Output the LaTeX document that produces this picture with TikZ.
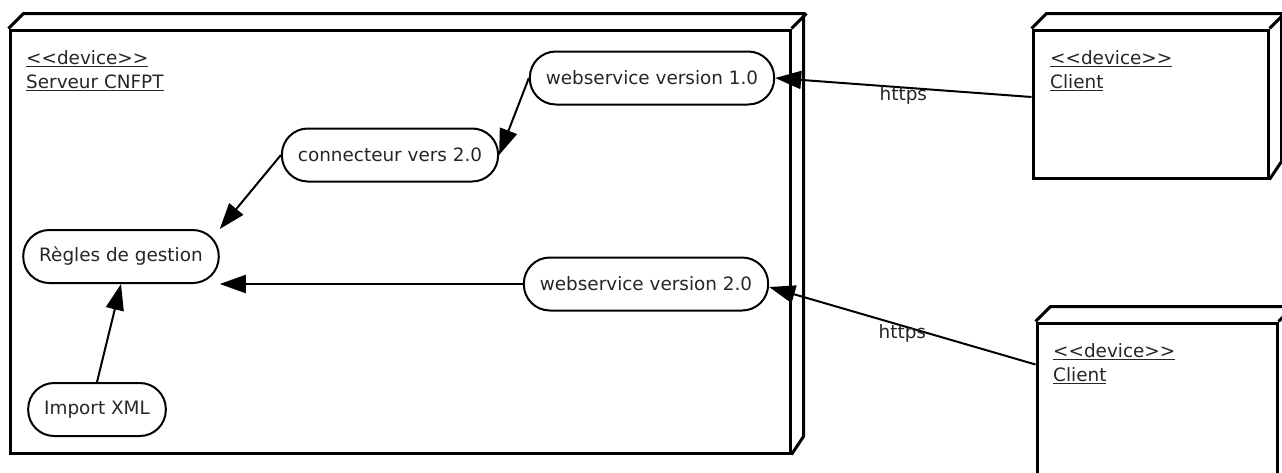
\documentclass[tikz,border=0pt]{standalone}
\usepackage{fontspec}
\setmainfont{DejaVu Sans}
\usepackage{xcolor}
\usepackage{tikz}
\usetikzlibrary{arrows.meta,positioning}

\begin{document}
\begin{tikzpicture}[
    x=1pt, y=-1pt,
    font=\fontsize{18.4}{24}\selectfont,
    devicebox/.style={draw, line width=3pt, inner sep=0pt},
    devicelabel/.style={anchor=north west, inner sep=0pt, align=left, text=black!85},
    component/.style={draw, line width=2pt, rounded corners=26pt, minimum height=53pt, inner xsep=16pt, text=black!85},
    link/.style={line width=2pt, -{Triangle[length=26pt,width=18pt]}},
    protocol/.style={pos=.5, yshift=-8pt, inner sep=0pt, text=black!85}
    ]

                \useasboundingbox (0,0) rectangle (1282,472);
                \clip (0,0) rectangle (1282,472);
                \fill[white] (0,0) rectangle (1282,472);

                % serveur
                \node[devicebox, minimum width=780pt, minimum height=423pt] (serveur) at (400,241.5) {};
                \draw[line width=3pt] (serveur.north west) -- ++(15,-15) -- ++(780,0) -- ++(0,423) -- (serveur.south east);
                \draw[line width=3pt] (serveur.north east) -- ++(15,-15);
                \node[devicelabel] (serveurlabel) at (26,50) {\underline{{<}{<}device{>}{>}}\\\underline{Serveur CNFPT}};

                % clients
                \node[devicebox, minimum width=235pt, minimum height=148pt] (client1) at (1150.5,104) {};
                \draw[line width=3pt] (client1.north west) -- ++(15,-15) -- ++(235,0) -- ++(0,148) -- (client1.south east);
                \draw[line width=3pt] (client1.north east) -- ++(15,-15);
                \node[devicelabel] (client1label) at (1050,50) {\underline{{<}{<}device{>}{>}}\\\underline{Client}};

                \node[devicebox, minimum width=240pt, minimum height=160pt] (client2) at (1157,403) {};
                \draw[line width=3pt] (client2.north west) -- ++(15,-15) -- ++(240,0) -- ++(0,160) -- (client2.south east);
                \draw[line width=3pt] (client2.north east) -- ++(15,-15);
                \node[devicelabel] (client2label) at (1053,343) {\underline{{<}{<}device{>}{>}}\\\underline{Client}};

                % composants
                \node[component] (ws1) at (652,78) {webservice version 1.0};
                \node[component] (connecteur) at (390,155) {connecteur vers 2.0};
                \node[component] (regles) at (121,256.5) {Règles de gestion};
                \node[component] (ws2) at (646,284) {webservice version 2.0};
                \node[component] (import) at (97,409.5) {Import XML};

                % liens
                \draw[link] (ws1.west) -- (connecteur.east);
                \draw[link] (connecteur.west) -- (regles.north east);
                \draw[link] (ws2.west) -- (regles.south east);
                \draw[link] (import.north) -- (regles.south);

                \draw[link] ([yshift=7pt]client1.west) -- node[protocol] {https} (ws1.east);
                \draw[link] ([yshift=-43pt]client2.north west) -- node[protocol] {https} ([yshift=-3pt]ws2.east);

            \end{tikzpicture}
\end{document}
